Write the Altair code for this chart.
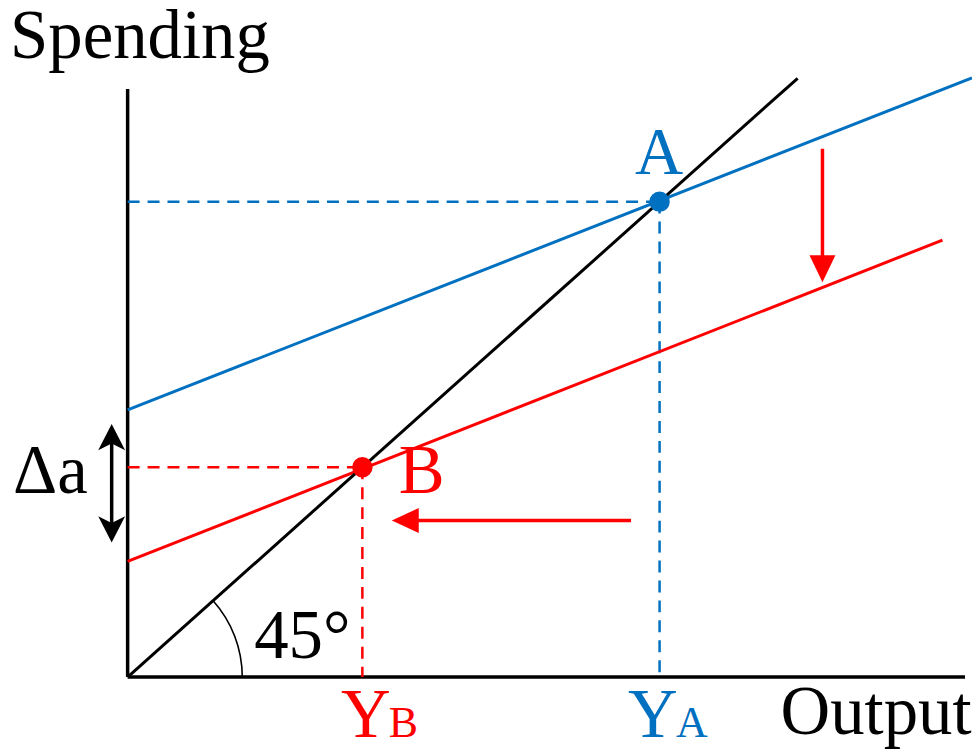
import altair as alt
import pandas as pd

BLUE = "#0070C0"
RED = "#FF0000"
FONT = "Liberation Serif"

# ---- data (output on x, spending on y) ----
axis_x_end = 9.917
axis_y_end = 7.794

line45_x = [0, 7.935]
line45_y = [0, 7.935]

ae1_x = [0, 10.0]        # initial aggregate expenditure (blue)
ae1_y = [3.54, 7.94]

ae2_x = [0, 9.65]        # lower aggregate expenditure (red)
ae2_y = [1.532, 5.79]

eq_labels = ["A", "B"]
eq_x = [6.30, 2.78]
eq_y = [6.30, 2.78]
eq_colors = [BLUE, RED]

# arrows: shaft start/end and tip
down_arrow = {"x": 8.229, "y0": 7.001, "y1": 5.52, "tip": 5.231}
left_arrow = {"y": 2.074, "x0": 5.962, "x1": 3.44, "tip": 3.129}
delta_arrow = {"x": -0.189, "top": 3.355, "bottom": 1.783}

# labels
lab_text = ["Spending", "Output", "A", "B", "\u0394a", "45\u00b0", "Y", "B", "Y", "A"]
lab_x = [-1.393, 7.733, 6.01, 3.211, -1.358, 1.499, 2.527, 3.093, 5.927, 6.494]
lab_y = [8.203, -0.753, 6.671, 2.444, 2.444, 0.251, -0.793, -0.793, -0.793, -0.793]
lab_size = [69, 69, 67, 69, 69, 69, 69, 44, 69, 44]
lab_color = ["black", "black", BLUE, RED, "black", "black", RED, RED, BLUE, BLUE]

xs = alt.Scale(domain=[0, 10], nice=False, zero=False)
ys = alt.Scale(domain=[0, axis_y_end], nice=False, zero=False)


def X(f="x"):
    return alt.X(f"{f}:Q", scale=xs, axis=None)


def Y(f="y"):
    return alt.Y(f"{f}:Q", scale=ys, axis=None)


def segs(rows, color, width, dash=None):
    df = pd.DataFrame(rows, columns=["x", "y", "x2", "y2"])
    kw = dict(color=color, strokeWidth=width)
    if dash:
        kw["strokeDash"] = dash
    return alt.Chart(df).mark_rule(**kw).encode(
        x=X(), y=Y(), x2="x2:Q", y2="y2:Q"
    )


layers = []

# axes
layers.append(segs([[0, 0, axis_x_end, 0], [0, 0, 0, axis_y_end]], "black", 3.5))

# dashed guides
layers.append(segs([[0, eq_y[0], eq_x[0], eq_y[0]], [eq_x[0], eq_y[0], eq_x[0], 0]], BLUE, 2.5, [12, 8]))
layers.append(segs([[0, eq_y[1], eq_x[1], eq_y[1]], [eq_x[1], eq_y[1], eq_x[1], 0]], RED, 2.5, [12, 8]))

# main lines
layers.append(segs([[ae1_x[0], ae1_y[0], ae1_x[1], ae1_y[1]]], BLUE, 3))
layers.append(segs([[ae2_x[0], ae2_y[0], ae2_x[1], ae2_y[1]]], RED, 3))
layers.append(segs([[line45_x[0], line45_y[0], line45_x[1], line45_y[1]]], "black", 3))

# 45 degree arc
layers.append(
    alt.Chart(pd.DataFrame({"x": [0], "y": [0]}))
    .mark_arc(theta=0.8414, theta2=1.5708, innerRadius=114.2, outerRadius=115.8, color="black")
    .encode(x=X(), y=Y())
)

# equilibrium points
layers.append(
    alt.Chart(pd.DataFrame({"x": eq_x, "y": eq_y, "c": eq_colors, "l": eq_labels}))
    .mark_point(filled=True, size=420, opacity=1, shape="circle")
    .encode(x=X(), y=Y(), color=alt.Color("c:N", scale=None))
)

# arrow shafts
layers.append(segs([[down_arrow["x"], down_arrow["y0"], down_arrow["x"], down_arrow["y1"]],
                    [left_arrow["x0"], left_arrow["y"], left_arrow["x1"], left_arrow["y"]]], RED, 3.5))
layers.append(segs([[delta_arrow["x"], delta_arrow["top"] - 0.25, delta_arrow["x"], delta_arrow["bottom"] + 0.25]], "black", 3.5))

# arrow heads
def head(x, y, path, size, color):
    return (
        alt.Chart(pd.DataFrame({"x": [x], "y": [y]}))
        .mark_point(shape=path, filled=True, size=size, color=color, opacity=1, strokeWidth=0)
        .encode(x=X(), y=Y())
    )

layers.append(head(down_arrow["x"], down_arrow["tip"], "M0,0L-1,-2.08L1,-2.08Z", 676, RED))
layers.append(head(left_arrow["tip"], left_arrow["y"], "M0,0L2.16,-1L2.16,1Z", 625, RED))
layers.append(head(delta_arrow["x"], delta_arrow["top"], "M0,0L1,1.95L0,1.45L-1,1.95Z", 729, "black"))
layers.append(head(delta_arrow["x"], delta_arrow["bottom"], "M0,0L1,-1.95L0,-1.45L-1,-1.95Z", 729, "black"))

# labels
layers.append(
    alt.Chart(pd.DataFrame({"t": lab_text, "x": lab_x, "y": lab_y, "s": lab_size, "c": lab_color}))
    .mark_text(font=FONT, align="left", baseline="alphabetic")
    .encode(
        x=X(), y=Y(), text="t:N",
        size=alt.Size("s:Q", scale=None),
        color=alt.Color("c:N", scale=None),
    )
)

chart = (
    alt.layer(*layers)
    .properties(
        width=847,
        height=590,
        autosize=alt.AutoSizeParams(type="none"),
        padding={"left": 120, "top": 80, "right": 0, "bottom": 74},
        background="white",
    )
    .configure_view(stroke=None)
)

chart.save("out.html", embed_options={"renderer": "svg", "actions": False})
